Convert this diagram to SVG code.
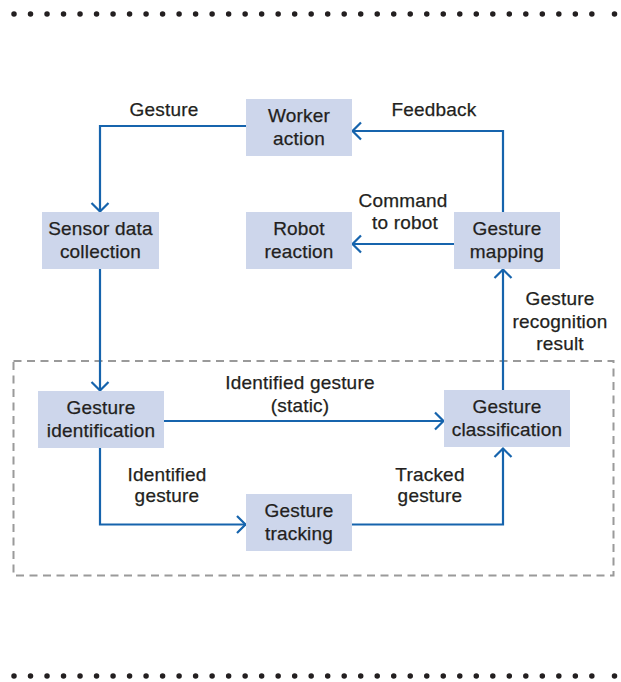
<svg xmlns="http://www.w3.org/2000/svg" width="621" height="682" viewBox="0 0 621 682">
<style>
.node rect{fill:#cdd6eb}
text{font-family:"Liberation Sans",Arial,sans-serif;font-size:19px;letter-spacing:0.2px;fill:#231f20;stroke:#231f20;stroke-width:0.25;text-anchor:middle}
.conn path{fill:none;stroke:#1664ad;stroke-width:2.2}
.dots{stroke:#231f20;stroke-width:5.5;stroke-linecap:round;stroke-dasharray:0 16.51}
</style>
<defs>
<marker id="ah" markerUnits="userSpaceOnUse" markerWidth="22" markerHeight="22" viewBox="0 0 22 22" refX="11.5" refY="11" orient="auto">
<path d="M2.5,2.5 L11,11 L2.5,19.5" fill="none" stroke="#1664ad" stroke-width="2.2"/>
</marker>
</defs>
<rect width="621" height="682" fill="#fff"/>
<g id="dots-top">
<line class="dots" x1="14" y1="14" x2="592" y2="14"/>
<circle cx="614.5" cy="14" r="2.75" fill="#231f20"/>
</g>
<g id="dots-bottom">
<line class="dots" x1="14" y1="676" x2="592" y2="676"/>
<circle cx="614.5" cy="676" r="2.75" fill="#231f20"/>
</g>
<rect id="group-box" x="13.5" y="361" width="600" height="214.5" fill="none" stroke="#9a9a9a" stroke-width="2" stroke-dasharray="8 5.5"/>
<g class="conn" id="connectors">
<path d="M246,126 H100 V212" marker-end="url(#ah)"/>
<path d="M503,212 V131 H352" marker-end="url(#ah)"/>
<path d="M454,244 H352" marker-end="url(#ah)"/>
<path d="M100,269 V391" marker-end="url(#ah)"/>
<path d="M164,421 H444" marker-end="url(#ah)"/>
<path d="M100,448 V524.5 H246" marker-end="url(#ah)"/>
<path d="M352,524.5 H503 V448" marker-end="url(#ah)"/>
<path d="M503,390 V269" marker-end="url(#ah)"/>
</g>
<g id="labels">
<text x="164" y="116">Gesture</text>
<text x="434" y="116">Feedback</text>
<text x="403" y="207">Command</text>
<text x="405" y="229">to robot</text>
<text x="560" y="305">Gesture</text>
<text x="560" y="328">recognition</text>
<text x="560" y="350">result</text>
<text x="300" y="389">Identified gesture</text>
<text x="300" y="412">(static)</text>
<text x="167" y="481">Identified</text>
<text x="167" y="502">gesture</text>
<text x="430" y="481">Tracked</text>
<text x="430" y="502">gesture</text>
</g>
<g class="node" id="worker-action">
<rect x="246" y="99" width="106" height="57"/>
<text x="299" y="122">Worker</text>
<text x="299" y="145">action</text>
</g>
<g class="node" id="sensor-data-collection">
<rect x="42" y="212" width="117" height="57"/>
<text x="100.5" y="235">Sensor data</text>
<text x="100.5" y="258">collection</text>
</g>
<g class="node" id="robot-reaction">
<rect x="246" y="212" width="106" height="57"/>
<text x="299" y="235">Robot</text>
<text x="299" y="258">reaction</text>
</g>
<g class="node" id="gesture-mapping">
<rect x="454" y="212" width="106" height="57"/>
<text x="507" y="235">Gesture</text>
<text x="507" y="258">mapping</text>
</g>
<g class="node" id="gesture-identification">
<rect x="38" y="391" width="126" height="57"/>
<text x="101" y="414">Gesture</text>
<text x="101" y="436.5">identification</text>
</g>
<g class="node" id="gesture-classification">
<rect x="444" y="390" width="126" height="57"/>
<text x="507" y="413">Gesture</text>
<text x="507" y="435.5">classification</text>
</g>
<g class="node" id="gesture-tracking">
<rect x="246" y="494" width="106" height="57"/>
<text x="299" y="517">Gesture</text>
<text x="299" y="540">tracking</text>
</g>
</svg>
